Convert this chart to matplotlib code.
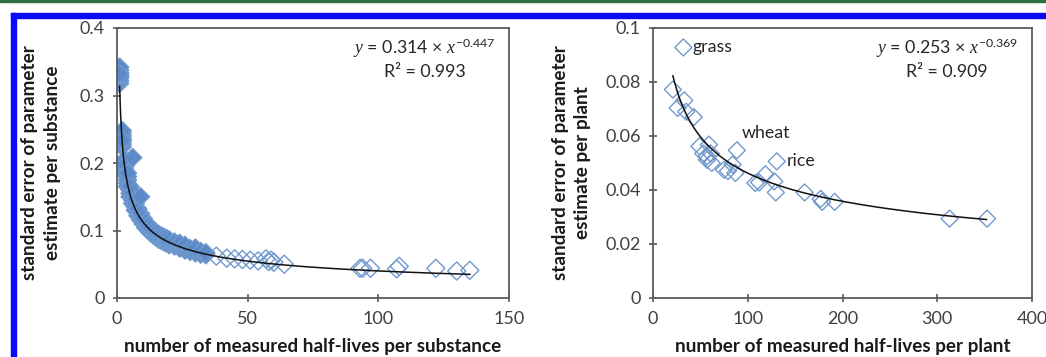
import matplotlib
matplotlib.use("Agg")
import matplotlib.pyplot as plt
import numpy as np
from matplotlib.patches import Rectangle

plt.rcParams['font.family'] = ['Lato', 'DejaVu Sans']
plt.rcParams['mathtext.fontset'] = 'custom'
plt.rcParams['mathtext.it'] = 'Liberation Serif:italic'
plt.rcParams['mathtext.rm'] = 'Lato'

# ---------------- data: substances (left) ----------------
sub_x = [1, 1, 1, 1, 1, 1, 1, 1, 1,
         2, 2, 2, 2, 2, 2, 2, 2,
         3, 3, 3, 3, 3, 3,
         4, 4, 4, 4, 4,
         5, 5, 5, 5, 6,
         6, 6, 6, 6,
         7, 7, 7, 7,
         8, 8, 8, 9,
         9, 9, 9,
         10, 10, 10,
         11, 11, 11,
         12, 12, 12,
         13, 13, 13,
         14, 14, 14,
         15, 15, 15,
         16, 16, 16,
         17, 17, 17,
         18, 18, 18,
         19, 19, 19,
         20, 20, 20,
         22, 22, 22,
         24, 24, 24,
         26, 26, 26,
         28, 28,
         30, 30, 30,
         32, 32,
         34, 34,
         38, 42, 45, 48, 51, 54, 57, 58, 59, 60, 64,
         93, 94, 97, 107, 108, 122, 130, 135]
sub_y = [0.318, 0.322, 0.326, 0.330, 0.334, 0.338, 0.342, 0.328, 0.332,
         0.224, 0.228, 0.232, 0.236, 0.240, 0.244, 0.248, 0.234,
         0.186, 0.190, 0.195, 0.200, 0.205, 0.198,
         0.165, 0.170, 0.175, 0.180, 0.185,
         0.150, 0.155, 0.160, 0.165, 0.208,
         0.140, 0.145, 0.150, 0.156,
         0.130, 0.135, 0.140, 0.147,
         0.122, 0.127, 0.132, 0.150,
         0.116, 0.120, 0.125,
         0.110, 0.114, 0.118,
         0.104, 0.108, 0.112,
         0.100, 0.104, 0.108,
         0.096, 0.100, 0.104,
         0.093, 0.097, 0.100,
         0.090, 0.094, 0.097,
         0.087, 0.091, 0.094,
         0.085, 0.089, 0.092,
         0.083, 0.086, 0.090,
         0.081, 0.084, 0.088,
         0.079, 0.082, 0.086,
         0.077, 0.080, 0.083,
         0.074, 0.078, 0.081,
         0.071, 0.075, 0.078,
         0.069, 0.073,
         0.067, 0.071, 0.074,
         0.065, 0.069,
         0.064, 0.067,
         0.062, 0.059, 0.058, 0.057, 0.056, 0.055, 0.058, 0.054, 0.056, 0.053, 0.050,
         0.044, 0.044, 0.044, 0.043, 0.047, 0.044, 0.040, 0.041]
sub_coef, sub_exp, sub_r2 = 0.314, -0.447, 0.993
sub_fit_range = (1, 135)

# ---------------- data: plants (right) ----------------
plant_x = [32, 21, 26, 33, 35, 43, 49, 53, 59, 61, 57, 62, 57, 75, 79, 87, 84,
           88.5, 108, 112, 118.6, 128, 129.6, 130.6, 160, 177, 178.5, 191.7, 313, 352.6]
plant_y = [0.0928, 0.0772, 0.0704, 0.0732, 0.0690, 0.0670, 0.0562, 0.0535, 0.0568,
           0.0535, 0.0525, 0.0500, 0.0512, 0.0475, 0.0470, 0.0463, 0.0494,
           0.0547, 0.0426, 0.0428, 0.0458, 0.0432, 0.0391, 0.0506, 0.0391, 0.0367,
           0.0356, 0.0356, 0.0294, 0.0294]
plant_labels = {0: ("grass", (9, 0)), 17: ("wheat", (5, 9)), 23: ("rice", (10, 0))}
plant_coef, plant_exp, plant_r2 = 0.253, -0.369, 0.909
plant_fit_range = (21, 352)

left_xticks = [0, 50, 100, 150]
left_yticks = [0, 0.1, 0.2, 0.3, 0.4]
left_ytick_labels = ["0", "0.1", "0.2", "0.3", "0.4"]
right_xticks = [0, 100, 200, 300, 400]
right_yticks = [0, 0.02, 0.04, 0.06, 0.08, 0.1]
right_ytick_labels = ["0", "0.02", "0.04", "0.06", "0.08", "0.1"]

W, H = 1046, 357
fig = plt.figure(figsize=(W / 100, H / 100), dpi=100)

# decorative frame
fig.patches.append(Rectangle((0, (H - 2) / H), 1, 2 / H, transform=fig.transFigure,
                             color='#2f6e42', zorder=0))
fig.patches.append(Rectangle((11 / W, (H - 18) / H), 1 - 11 / W, 5 / H, transform=fig.transFigure,
                             color='#0a0afa', zorder=0))
fig.patches.append(Rectangle((11 / W, 0), 5 / W, (H - 13) / H, transform=fig.transFigure,
                             color='#0a0afa', zorder=0))


def px_axes(l, r, t, b):
    return fig.add_axes([l / W, (H - b) / H, (r - l) / W, (b - t) / H])


axL = px_axes(117, 509, 28, 298)
axR = px_axes(653, 1032, 28, 298)

tick_color = '#404040'
spine_color = '#5a5a5a'
lab_fs = 13.6
eq_fs = 12.8
for ax in (axL, axR):
    for s in ax.spines.values():
        s.set_color(spine_color)
        s.set_linewidth(1.3)
    ax.tick_params(direction='inout', length=6, width=1.2, color=spine_color,
                   labelsize=13, labelcolor=tick_color, pad=6)

# left chart
colsL = ['#5a8ac8' if x < 36 else 'none' for x in sub_x]
axL.scatter(sub_x, sub_y, marker='D', s=85, facecolors=colsL, edgecolors='#7099cf',
            linewidths=1.0, zorder=2)
fx = np.linspace(sub_fit_range[0], sub_fit_range[1], 400)
axL.plot(fx, sub_coef * fx ** sub_exp, color='#111111', lw=1.1, zorder=3)
axL.set_xlim(0, 150)
axL.set_ylim(0, 0.4)
axL.set_xticks(left_xticks)
axL.set_yticks(left_yticks)
axL.set_yticklabels(left_ytick_labels)
axL.set_xlabel("number of measured half-lives per substance", fontsize=lab_fs,
               fontweight='bold', color='#1a1a1a', va='center')
axL.set_ylabel("standard error of parameter\nestimate per substance", fontsize=lab_fs,
               fontweight='bold', color='#1a1a1a', linespacing=1.4, va='center')
axL.xaxis.set_label_coords(0.5, -0.181)
axL.yaxis.set_label_coords(-0.194, 0.5)
axL.text(0.785, 0.926, r"$y$ = %.3f × $x^{\mathrm{%.3f}}$" % (sub_coef, sub_exp),
         transform=axL.transAxes, ha='center', va='center', fontsize=eq_fs, color='#262626')
axL.text(0.785, 0.837, "R² = %.3f" % sub_r2, transform=axL.transAxes, ha='center',
         va='center', fontsize=eq_fs, color='#262626')

# right chart
axR.scatter(plant_x, plant_y, marker='D', s=75, facecolors='none', edgecolors='#7399cc',
            linewidths=1.0, zorder=2)
fx = np.linspace(plant_fit_range[0], plant_fit_range[1], 400)
axR.plot(fx, plant_coef * fx ** plant_exp, color='#111111', lw=1.1, zorder=3)
for i, (lab, off) in plant_labels.items():
    axR.annotate(lab, (plant_x[i], plant_y[i]), xytext=off, textcoords='offset pixels',
                 ha='left', va='center' if off[1] == 0 else 'bottom', fontsize=eq_fs,
                 color='#262626')
axR.set_xlim(0, 400)
axR.set_ylim(0, 0.1)
axR.set_xticks(right_xticks)
axR.set_yticks(right_yticks)
axR.set_yticklabels(right_ytick_labels)
axR.set_xlabel("number of measured half-lives per plant", fontsize=lab_fs,
               fontweight='bold', color='#1a1a1a', va='center')
axR.set_ylabel("standard error of parameter\nestimate per plant", fontsize=lab_fs,
               fontweight='bold', color='#1a1a1a', linespacing=1.4, va='center')
axR.xaxis.set_label_coords(0.5, -0.181)
axR.yaxis.set_label_coords(-0.215, 0.5)
axR.text(0.776, 0.926, r"$y$ = %.3f × $x^{\mathrm{%.3f}}$" % (plant_coef, plant_exp),
         transform=axR.transAxes, ha='center', va='center', fontsize=eq_fs, color='#262626')
axR.text(0.776, 0.837, "R² = %.3f" % plant_r2, transform=axR.transAxes, ha='center',
         va='center', fontsize=eq_fs, color='#262626')

fig.savefig("out.png", dpi=100)
